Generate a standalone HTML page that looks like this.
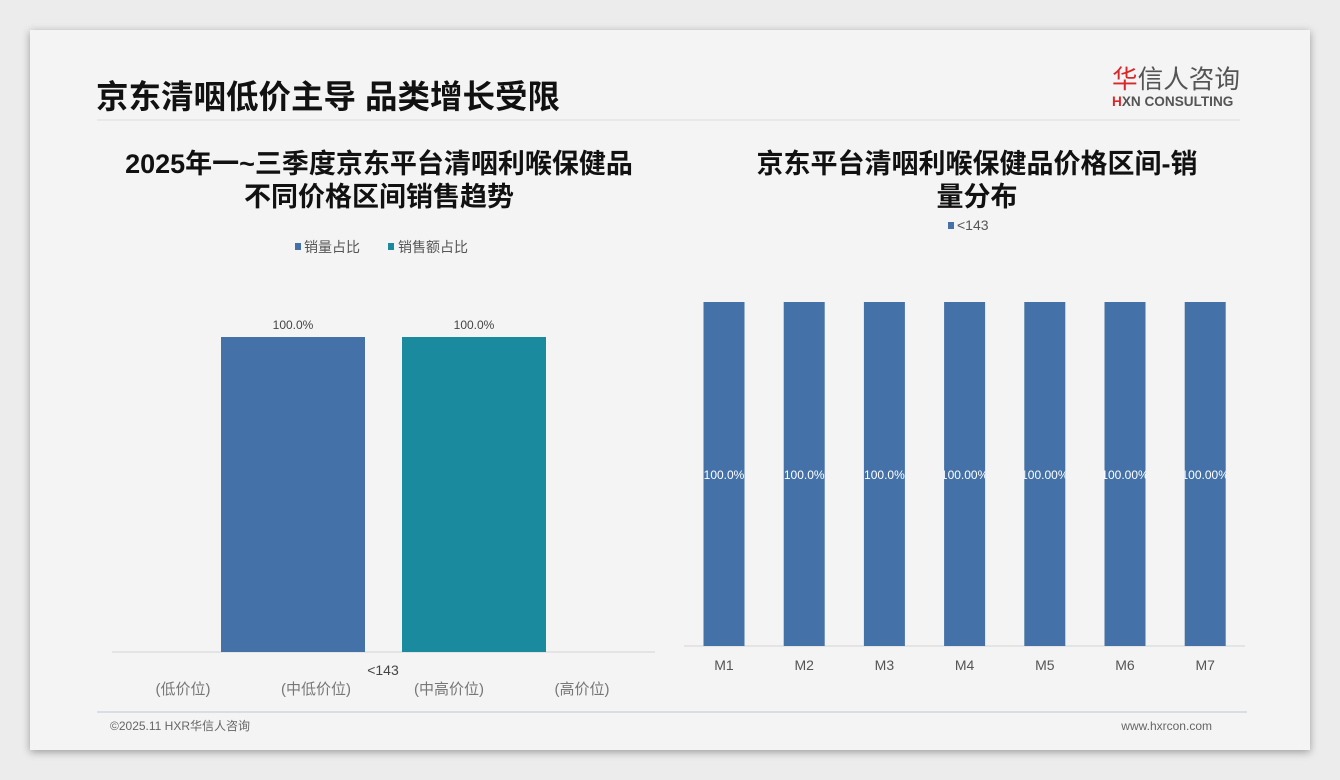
<!DOCTYPE html>
<html><head><meta charset="utf-8"><style>
body{margin:0;width:1340px;height:780px;background:#ececec;font-family:"Liberation Sans","Noto Sans CJK SC",sans-serif;overflow:hidden}
#card{position:absolute;left:30px;top:30px;width:1280px;height:720px;background:#f4f4f4;box-shadow:0 2px 8px rgba(0,0,0,.35)}
</style></head><body>
<div id="card"></div>
<svg id="s" width="1340" height="780" style="position:absolute;left:0;top:0" font-family="Liberation Sans, Noto Sans CJK SC, sans-serif">
<defs id="defs"></defs>
<text x="96" y="108" font-size="32.5" font-weight="bold" fill="#111">京东清咽低价主导 品类增长受限</text>
<text x="1112" y="88" font-size="25.6" fill="#555"><tspan fill="#d8282a">华</tspan>信人咨询</text>
<text x="1112" y="106" font-size="13.6" font-weight="bold" fill="#555"><tspan fill="#d8282a">H</tspan>XN CONSULTING</text>
<line x1="97" y1="120" x2="1240" y2="120" stroke="#dcdcdc"/>
<text x="379" y="173" font-size="27" font-weight="bold" text-anchor="middle" fill="#111">2025年一~三季度京东平台清咽利喉保健品</text>
<text x="379" y="206" font-size="27" font-weight="bold" text-anchor="middle" fill="#111">不同价格区间销售趋势</text>
<g font-size="14" fill="#555">
<rect x="295" y="243" width="6" height="7" fill="#4472a8"/><text x="304" y="252">销量占比</text>
<rect x="388" y="243" width="6" height="7" fill="#1a8a9e"/><text x="398" y="252">销售额占比</text>
</g>
<text x="977" y="173" font-size="27" font-weight="bold" text-anchor="middle" fill="#111">京东平台清咽利喉保健品价格区间-销</text>
<text x="977" y="206" font-size="27" font-weight="bold" text-anchor="middle" fill="#111">量分布</text>
<g font-size="14" fill="#555">
<rect x="948" y="222" width="6" height="7" fill="#4472a8"/><text x="957" y="230">&lt;143</text>
</g>
<g id="left"></g>
<g id="right"></g>
<line x1="97" y1="712" x2="1247" y2="712" stroke="#b8c8d8"/>
<text x="110" y="730" font-size="12" fill="#666">©2025.11 HXR华信人咨询</text>
<text x="1212" y="730" font-size="12" fill="#666" text-anchor="end">www.hxrcon.com</text>
</svg>
<script>
const NS="http://www.w3.org/2000/svg";
const leftSeries=["销量占比","销售额占比"];
const leftValues=[100,100];
const leftColors=["#4472a8","#1a8a9e"];
const leftCats=["(低价位)","(中低价位)","(中高价位)","(高价位)"];
const leftGroup="<143";
const rightCats=["M1","M2","M3","M4","M5","M6","M7"];
const rightValues=[100,100,100,100,100,100,100];
const rightLabels=["100.0%","100.0%","100.0%","100.00%","100.00%","100.00%","100.00%"];
function mk(t,a,p){const e=document.createElementNS(NS,t);for(const k in a)e.setAttribute(k,a[k]);p.appendChild(e);return e;}
const D=document.getElementById('defs');
// left chart
const L=document.getElementById('left');
const lBase=652,lTop=337; const ly=v=>lBase-(lBase-lTop)*v/100;
let e=mk('line',{x1:112,y1:lBase,x2:655,y2:lBase,stroke:'#d4d4d4'},L);


const lx=i=>221+i*181;
leftValues.forEach((v,i)=>{
 const r=mk('rect',{x:lx(i),y:ly(v),width:144,height:lBase-ly(v),fill:leftColors[i]},L);
 
 
 const t=mk('text',{x:lx(i)+72,y:ly(v)-8,'font-size':12,fill:'#444','text-anchor':'middle'},L);
 t.textContent=v.toFixed(1)+'%';
 
 
});
e=mk('text',{x:383,y:675,'font-size':14,fill:'#444','text-anchor':'middle'},L);e.textContent=leftGroup;


leftCats.forEach((c,i)=>{
 const t=mk('text',{x:183+i*133,y:694,'font-size':15,fill:'#777','text-anchor':'middle'},L);t.textContent=c;
 
 
});
// right chart
const R=document.getElementById('right');
const rBase=646,rTop=302; const ry=v=>rBase-(rBase-rTop)*v/100;
e=mk('line',{x1:684,y1:rBase,x2:1245,y2:rBase,stroke:'#d4d4d4'},R);


const rx=i=>724+i*80.2;
rightValues.forEach((v,i)=>{
 const w=41,x=rx(i)-w/2;
 const cp=mk('clipPath',{id:'cp'+i},D);
 mk('rect',{x:x,y:ry(v),width:w,height:rBase-ry(v)},cp);
 const r=mk('rect',{x:x,y:ry(v),width:w,height:rBase-ry(v),fill:'#4472a8'},R);
 
 
 const t=mk('text',{x:rx(i),y:(rBase+ry(v))/2+5,'font-size':12,fill:'#fff','text-anchor':'middle','clip-path':'url(#cp'+i+')'},R);
 t.textContent=rightLabels[i];
 
 
 const c=mk('text',{x:rx(i),y:670,'font-size':14,fill:'#555','text-anchor':'middle'},R);c.textContent=rightCats[i];
 
 
});
</script>
</body></html>
